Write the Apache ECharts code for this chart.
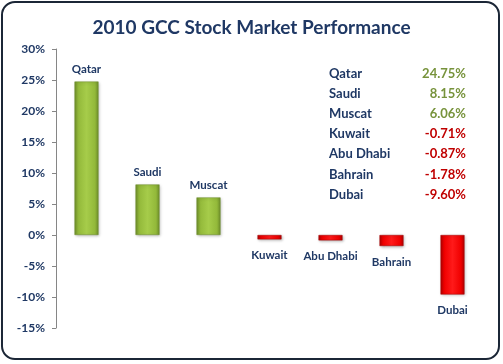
<!DOCTYPE html>
<html><head><meta charset="utf-8">
<script src="https://cdn.jsdelivr.net/npm/echarts@6/dist/echarts.min.js"></script>
<style>html,body{margin:0;padding:0;background:#fff}#c{width:503px;height:364px}</style>
</head><body><div id="c"></div>
<script>
const titleText = '2010 GCC Stock Market Performance';
const categories = ['Qatar','Saudi','Muscat','Kuwait','Abu Dhabi','Bahrain','Dubai'];
const values = [24.75, 8.15, 6.06, -0.71, -0.87, -1.78, -9.60];
const valueLabels = ['24.75%','8.15%','6.06%','-0.71%','-0.87%','-1.78%','-9.60%'];
const yTicks = [-15,-10,-5,0,5,10,15,20,25,30];

const FONT = 'Lato';
const NAVY = '#1f3864';
const green = {type:'linear',x:0,y:0,x2:1,y2:0,colorStops:[
  {offset:0,color:'#6f8f2a'},{offset:0.15,color:'#93b93a'},{offset:0.5,color:'#a6cc4a'},{offset:0.85,color:'#93b93a'},{offset:1,color:'#6f8f2a'}]};
const red = {type:'linear',x:0,y:0,x2:1,y2:0,colorStops:[
  {offset:0,color:'#b00000'},{offset:0.15,color:'#f00000'},{offset:0.5,color:'#ff1a1a'},{offset:0.85,color:'#f00000'},{offset:1,color:'#b00000'}]};

const chart = echarts.init(document.getElementById('c'));
const data = values.map((v,i)=>({
  value: v,
  itemStyle: {color: v>=0 ? green : red, borderColor: v>=0 ? '#6a8a28' : '#a00000', borderWidth: 0.5,
    shadowColor:'rgba(0,0,0,0.3)', shadowBlur:3, shadowOffsetX:1, shadowOffsetY:1},
  label: {show:true, position: v>=0 ? 'top' : 'bottom', distance: v>=0 ? 6 : 10,
    formatter: categories[i], color: NAVY, fontFamily: FONT, fontWeight:'bold', fontSize: 11.5}
}));

const tableG = [];
const rowY0 = 75, rowStep = 20.2;
categories.forEach((c,i)=>{
  tableG.push({type:'text', left:329, top: rowY0 + i*rowStep - 8,
    style:{text:c, fill:NAVY, font:'bold 13px '+FONT}});
  tableG.push({type:'text', right: 503-466, top: rowY0 + i*rowStep - 8,
    style:{text:valueLabels[i], fill: values[i]>=0 ? '#77933c' : '#c00000', font:'bold 13px '+FONT, textAlign:'right'}});
});

chart.setOption({
  animation:false,
  title:{text:titleText, left:'center', top:13,
    textStyle:{fontFamily:FONT, fontWeight:'bold', fontSize:19, color:NAVY}},
  grid:{left:56, right:20, top:49, bottom:36, containLabel:false},
  xAxis:{type:'category', data:categories, axisLine:{show:false}, axisTick:{show:false}, axisLabel:{show:false}},
  yAxis:{type:'value', min:-15, max:30, interval:5,
    axisLine:{show:true, lineStyle:{color:'#868686', width:1}},
    axisTick:{show:true, inside:false, length:4, lineStyle:{color:'#868686'}},
    splitLine:{show:false},
    axisLabel:{formatter:v=>v+'%', color:NAVY, fontFamily:FONT, fontWeight:'bold', fontSize:12, margin:11}},
  series:[{type:'bar', data:data, barWidth:24}],
  graphic:[
    {type:'rect', shape:{x:2,y:2,width:497,height:357,r:13}, style:{fill:'none', stroke:'#1b2636', lineWidth:2}, z:100},
    ...tableG
  ]
});
</script></body></html>
